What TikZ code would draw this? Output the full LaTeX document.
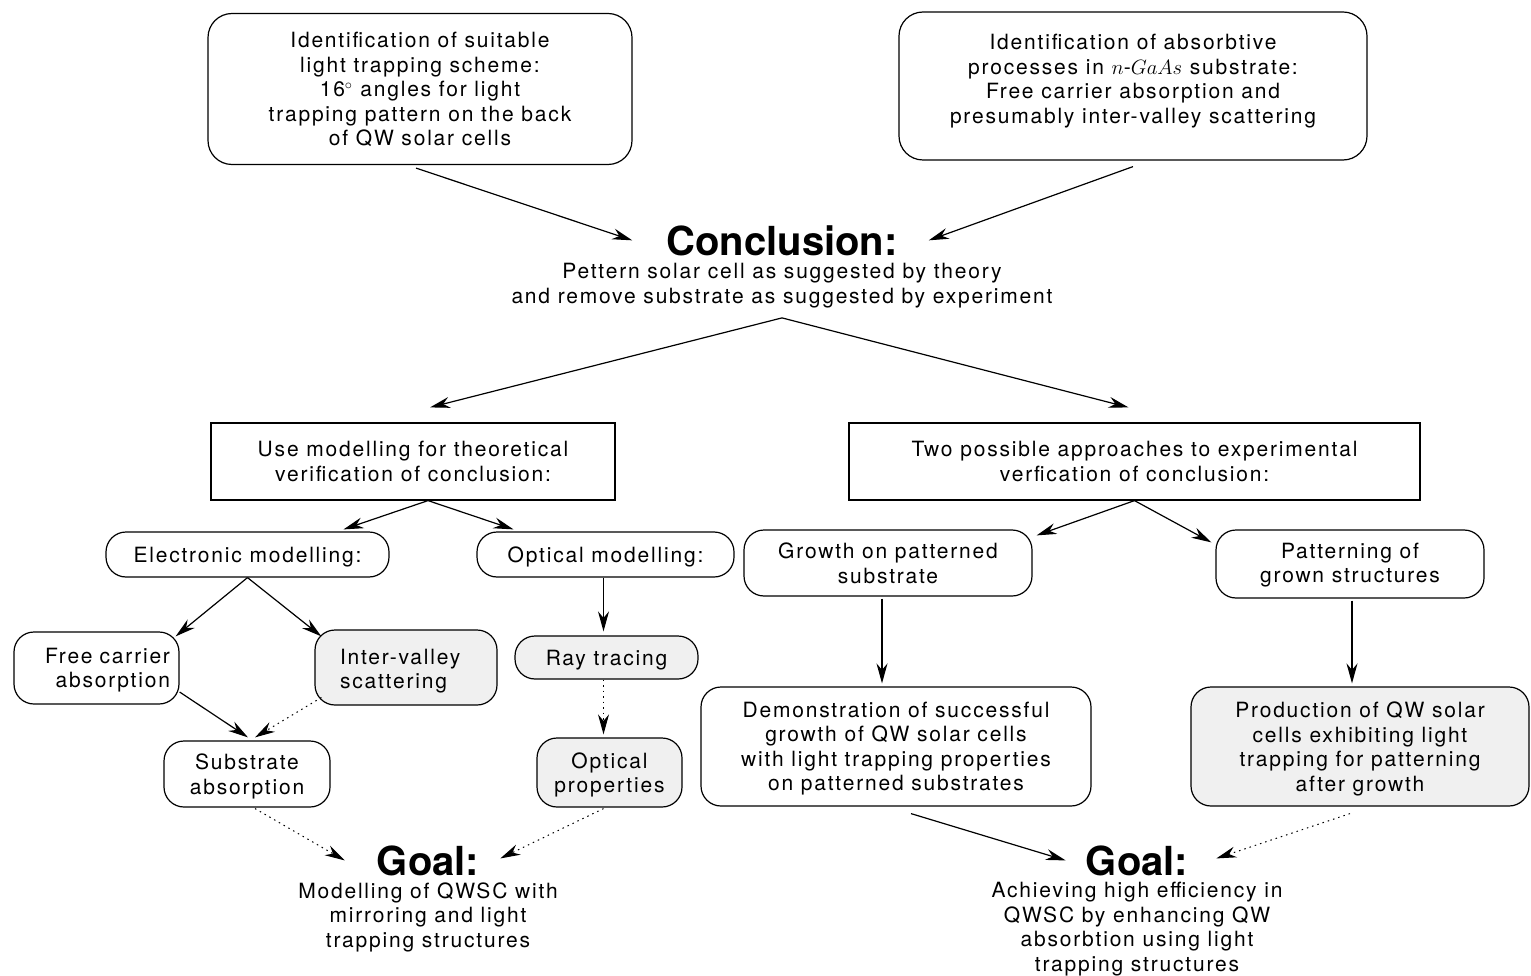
\documentclass[tikz,border=0pt]{standalone}
\usepackage{fontspec}
\setmainfont{TeX Gyre Heros}[LetterSpace=8.6]
\newfontfamily\headfont{TeX Gyre Heros}
\usepackage{tikz}
\usetikzlibrary{positioning,calc,arrows.meta}
\tikzset{>={Stealth[length=20pt,width=11pt]}}
\tikzset{
  txt/.style={align=center,inner sep=0pt,font=\fontsize{21}{24.5}\selectfont},
  roundbox/.style={txt,draw,line width=1.2pt,rounded corners=20pt,text depth=-8pt},
  greybox/.style={roundbox,fill=black!6},
  sqbox/.style={txt,draw,line width=1.2pt,text depth=-8pt},
  head/.style={font=\headfont\fontsize{40}{44}\selectfont\bfseries,inner sep=0pt,anchor=base},
  arr/.style={->,line width=1.2pt},
  dotarr/.style={->,line width=1pt,dash pattern=on 1.5pt off 4pt},
}
\begin{document}
\begin{tikzpicture}[x=1pt,y=-1pt]
\useasboundingbox (0,0) rectangle (1531,976);
\node[roundbox,rounded corners=24pt,minimum width=424pt,minimum height=151pt] (theory) at (420,89) {Identification of suitable\\light trapping scheme:\\16$^\circ$ angles for light\\trapping pattern on the back\\of QW solar cells};
\node[roundbox,rounded corners=24pt,text depth=14pt,minimum width=468pt,minimum height=148pt] (absorb) at (1133,86) {Identification of absorbtive\\processes in $n$-$GaAs$ substrate:\\Free carrier absorption and\\presumably inter-valley scattering};
\node[head] (concl) at (782,256) {Conclusion:};
\node[txt,inner ysep=10pt] (concltxt) at (782,285.5) {Pettern solar cell as suggested by theory\\and remove substrate as suggested by experiment};
\node[sqbox,minimum width=404pt,minimum height=77pt] (model) at (413,461.5) {Use modelling for theoretical\\verification of conclusion:};
\node[sqbox,minimum width=571pt,minimum height=77pt] (expt) at (1134.5,461.5) {Two possible approaches to experimental\\verfication of conclusion:};
\node[roundbox,minimum width=283pt,minimum height=45pt] (elec) at (247.5,554.5) {Electronic modelling:};
\node[roundbox,minimum width=257pt,minimum height=45pt] (opt) at (605.5,554.5) {Optical modelling:};
\node[roundbox,text depth=0pt,minimum width=288pt,minimum height=66pt] (grow) at (888,563) {Growth on patterned\\substrate};
\node[roundbox,text depth=2pt,minimum width=268pt,minimum height=68pt] (patt) at (1350,564) {Patterning of\\grown structures};
\node[roundbox,text depth=25pt,align=right,text width=147pt,minimum width=165pt,minimum height=72pt] (free) at (96.5,668) {Free carrier\\absorption};
\node[greybox,text depth=22pt,align=left,text width=132pt,minimum width=182pt,minimum height=75pt] (inter) at (406,667.5) {Inter-valley\\scattering};
\node[greybox,minimum width=183pt,minimum height=43pt] (ray) at (606.5,657.5) {Ray tracing};
\node[roundbox,minimum width=166pt,minimum height=66pt] (substr) at (247,774) {Substrate\\absorption};
\node[greybox,minimum width=145pt,minimum height=69pt] (oprop) at (609.5,772.5) {Optical\\properties};
\node[roundbox,minimum width=390pt,minimum height=119pt] (demo) at (896,746.5) {Demonstration of successful\\growth of QW solar cells\\with light trapping properties\\on patterned substrates};
\node[greybox,minimum width=338pt,minimum height=119pt] (prod) at (1360,746.5) {Production of QW solar\\cells exhibiting light\\trapping for patterning\\after growth};
\node[head] (goalL) at (428,875) {Goal:};
\node[txt] (goalLtxt) at (428,917) {Modelling of QWSC with\\mirroring and light\\trapping structures};
\node[head] (goalR) at (1137,875) {Goal:};
\node[txt] (goalRtxt) at (1137,929) {Achieving high efficiency in\\QWSC by enhancing QW\\absorbtion using light\\trapping structures};
\draw[arr] ($(theory.south)+(-4,3)$) -- ($(concl.west)+(-34,-1)$);
\draw[arr] ($(absorb.south)+(0,6)$) -- ($(concl.east)+(31,-1)$);
\draw[arr] (concltxt.south) -- ($(model.north)+(17,-15)$);
\draw[arr] (concltxt.south) -- ($(expt.north)+(-6,-15)$);
\draw[arr] ($(model.south)+(15,0)$) -- ($(elec.north)+(96,-2)$);
\draw[arr] ($(model.south)+(15,0)$) -- ($(opt.north)+(-92,-2)$);
\draw[arr] (expt.south) -- ($(grow.north east)+(4,6)$);
\draw[arr] (expt.south) -- ($(patt.north west)+(-4,13)$);
\draw[arr] (elec.south) -- ($(free.north east)+(-4,5)$);
\draw[arr] (elec.south) -- ($(inter.north west)+(7,7)$);
\draw[arr] ($(free.east)+(0,24)$) -- ($(substr.north)+(1,-3)$);
\draw[dotarr] ($(inter.west)+(7,30)$) -- ($(substr.north)+(8,-3)$);
\draw[arr] ($(opt.south)+(-2,0)$) -- ($(opt.south |- ray.north)+(-2,-4)$);
\draw[dotarr] ($(ray.south)+(-3,0)$) -- ($(ray.south |- oprop.north)+(-3,-3)$);
\draw[dotarr] ($(substr.south)+(8,1)$) -- ($(goalL.west)+(-32,0)$);
\draw[dotarr] ($(oprop.south)+(-6,1)$) -- ($(goalL.east)+(21,-2)$);
\draw[arr] ($(grow.south)+(-6,2)$) -- ($(grow.south |- demo.north)+(-6,-3)$);
\draw[arr] ($(patt.south)+(2,2)$) -- ($(patt.south |- prod.north)+(2,-3)$);
\draw[arr] ($(demo.south)+(15,7)$) -- ($(goalR.west)+(-20,0)$);
\draw[dotarr] ($(prod.south)+(-10,7)$) -- ($(goalR.east)+(28,-2)$);
\end{tikzpicture}
\end{document}
